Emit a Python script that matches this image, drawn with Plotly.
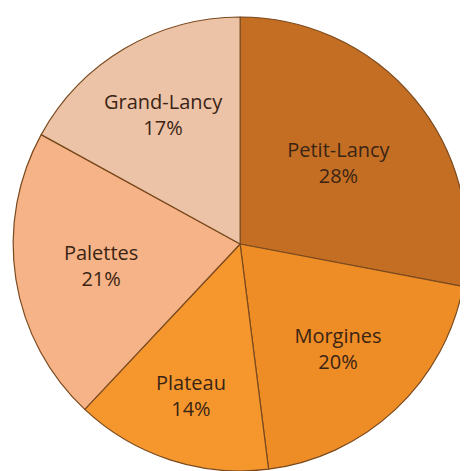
import plotly.graph_objects as go

quartiers = ["Petit-Lancy", "Morgines", "Plateau", "Palettes", "Grand-Lancy"]
parts = [28, 20, 14, 21, 17]
couleurs = ["#C46E24", "#EE8C26", "#F6972E", "#F6B387", "#EDC3A8"]

fig = go.Figure(go.Pie(
    labels=quartiers,
    values=parts,
    sort=False,
    direction="clockwise",
    rotation=0,
    marker=dict(colors=couleurs, line=dict(color="#7A4A1E", width=1.2)),
    texttemplate="%{label}<br>%{value}%",
    textposition="inside",
    insidetextorientation="horizontal",
    textfont=dict(family="Open Sans", size=20, color="#3A2414"),
    domain=dict(x=[0.011, 0.981], y=[0.017, 0.981]),
    hoverinfo="label+percent",
))

fig.update_layout(
    width=468, height=471,
    margin=dict(l=0, r=0, t=0, b=0),
    showlegend=False,
    paper_bgcolor="white",
    uniformtext=dict(minsize=20, mode="show"),
)

fig.write_html("out.html")
